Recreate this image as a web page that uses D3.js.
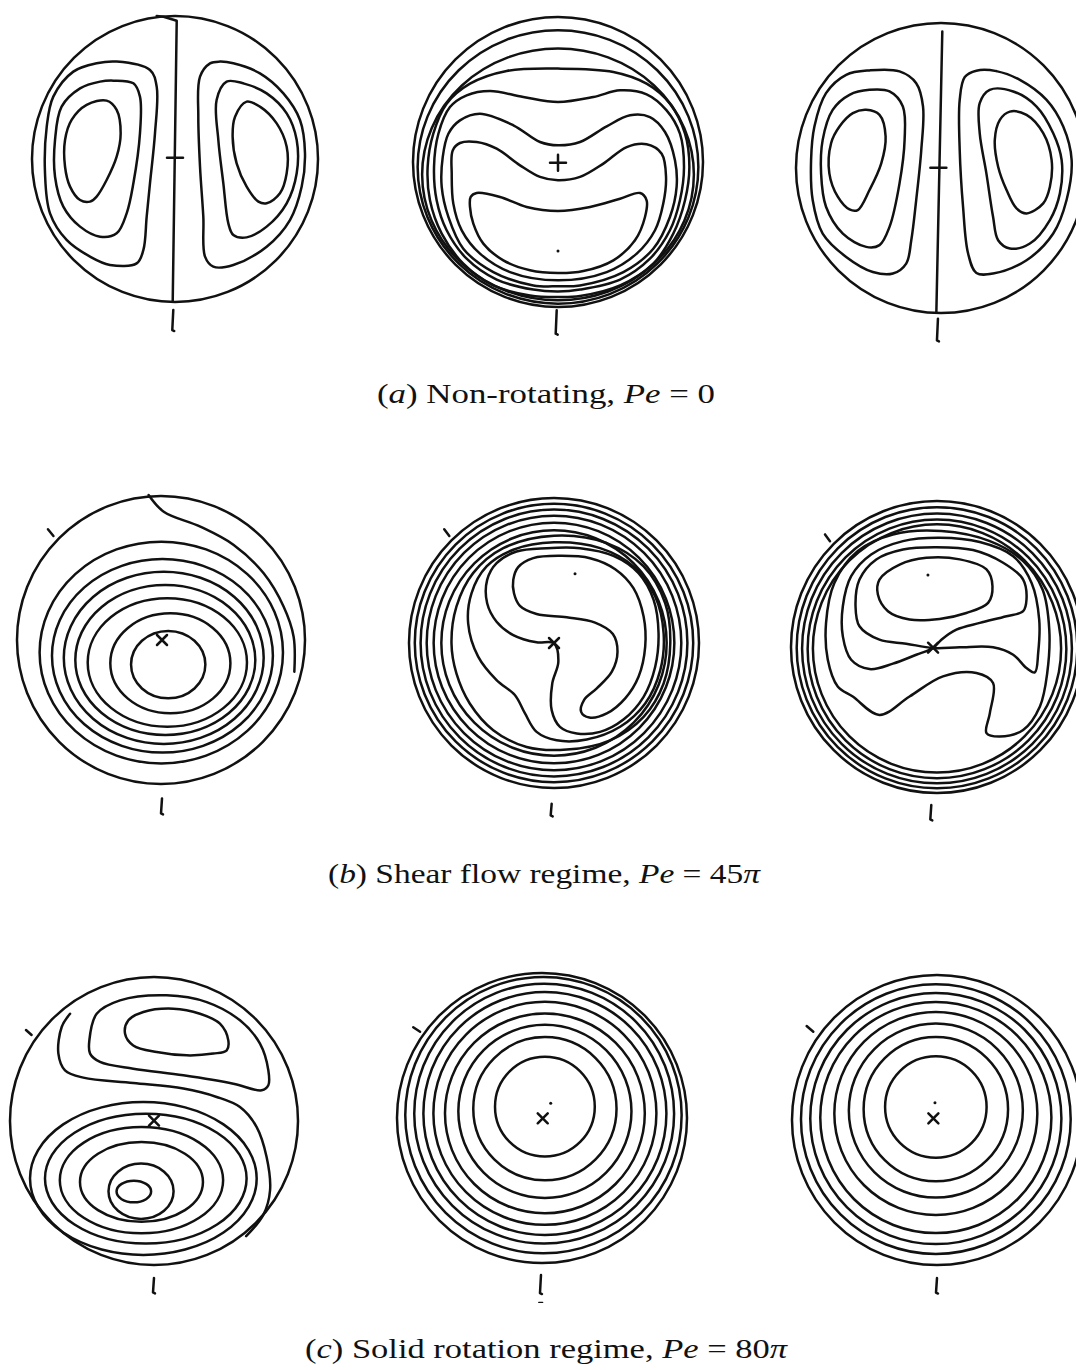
<!DOCTYPE html>
<html>
<head>
<meta charset="utf-8">
<script src="https://cdn.jsdelivr.net/npm/d3@7"></script>
<style>
  html, body { margin: 0; padding: 0; background: #fff; }
  svg { display: block; }
</style>
</head>
<body>
<svg id="fig" width="1076" height="1370"></svg>
<script>
// Contour data in unit-disk coordinates: u to the right, v upward, |(u,v)| = 1 on the wall.
// Loops are closed smooth contours, curves are open smooth contours,
// lines are straight polylines, rings are near-circular contours [cu, cv, ru, rv].

// ---- (a) non-rotating ----
const a1Loops = [
  [[-0.408,0.681],[-0.175,0.622],[-0.128,0.506],[-0.140,0.179],[-0.175,-0.170],[-0.198,-0.403],[-0.221,-0.636],[-0.268,-0.730],[-0.455,-0.741],[-0.594,-0.683],[-0.758,-0.566],[-0.874,-0.380],[-0.909,-0.100],[-0.897,0.226],[-0.851,0.436],[-0.711,0.611],[-0.548,0.669]],
  [[-0.431,0.548],[-0.291,0.529],[-0.245,0.436],[-0.245,0.179],[-0.291,-0.170],[-0.338,-0.380],[-0.408,-0.520],[-0.524,-0.543],[-0.664,-0.473],[-0.781,-0.333],[-0.839,-0.124],[-0.839,0.133],[-0.793,0.366],[-0.664,0.494],[-0.524,0.541]],
  [[-0.478,0.408],[-0.408,0.343],[-0.380,0.179],[-0.408,0.016],[-0.478,-0.147],[-0.548,-0.263],[-0.594,-0.298],[-0.664,-0.287],[-0.734,-0.193],[-0.769,-0.054],[-0.769,0.133],[-0.723,0.273],[-0.618,0.378]],
  [[0.315,0.681],[0.408,0.669],[0.594,0.599],[0.758,0.459],[0.874,0.273],[0.909,0.040],[0.886,-0.193],[0.804,-0.427],[0.641,-0.613],[0.408,-0.741],[0.268,-0.753],[0.210,-0.683],[0.198,-0.403],[0.175,-0.054],[0.163,0.296],[0.175,0.576],[0.245,0.669]],
  [[0.361,0.541],[0.478,0.529],[0.641,0.459],[0.781,0.319],[0.851,0.133],[0.851,-0.100],[0.781,-0.310],[0.641,-0.473],[0.501,-0.548],[0.408,-0.531],[0.373,-0.450],[0.338,-0.170],[0.303,0.133],[0.291,0.413]],
  [[0.501,0.401],[0.594,0.366],[0.711,0.249],[0.781,0.086],[0.781,-0.100],[0.734,-0.240],[0.641,-0.310],[0.583,-0.298],[0.501,-0.193],[0.431,-0.030],[0.403,0.156],[0.420,0.296]]
];
const a1Lines = [[[-0.128,1.000],[-0.080,0.995],[0.012,0.967],[-0.016,-0.998]]];
const a1Marks = [{kind:"bar", u:0.0, v:0.009}];
const a1Tick = [-0.012, -1.056, -1.196];

const a2Rings = [[0.0,-0.034,0.968,0.943],[0.0,-0.086,0.937,0.868]];
const a2Loops = [
  [[0,0.644],[0.382,0.621],[0.611,0.540],[0.772,0.402],[0.876,0.195],[0.906,-0.034],[0.876,-0.264],[0.795,-0.494],[0.657,-0.701],[0.428,-0.851],[0.152,-0.924],[0,-0.931],[-0.193,-0.920],[-0.446,-0.851],[-0.653,-0.701],[-0.802,-0.494],[-0.883,-0.264],[-0.899,-0.034],[-0.860,0.195],[-0.768,0.402],[-0.607,0.540],[-0.354,0.628]],
  [[-0.469,0.490],[-0.239,0.448],[0,0.414],[0.244,0.448],[0.428,0.494],[0.611,0.467],[0.749,0.356],[0.841,0.195],[0.869,-0.034],[0.841,-0.264],[0.772,-0.471],[0.634,-0.667],[0.428,-0.811],[0.152,-0.880],[0,-0.893],[-0.170,-0.880],[-0.423,-0.811],[-0.630,-0.667],[-0.768,-0.471],[-0.837,-0.264],[-0.855,-0.034],[-0.825,0.195],[-0.745,0.379],[-0.630,0.460]],
  [[-0.676,0.287],[-0.538,0.333],[-0.308,0.253],[-0.124,0.138],[0,0.115],[0.152,0.138],[0.336,0.246],[0.497,0.322],[0.634,0.310],[0.738,0.207],[0.807,0.011],[0.818,-0.172],[0.772,-0.379],[0.657,-0.598],[0.451,-0.759],[0.152,-0.851],[0,-0.857],[-0.170,-0.851],[-0.446,-0.759],[-0.653,-0.598],[-0.756,-0.379],[-0.802,-0.172],[-0.795,0.034],[-0.756,0.195]],
  [[-0.733,-0.080],[-0.726,0.080],[-0.676,0.131],[-0.561,0.138],[-0.423,0.092],[-0.262,-0.023],[-0.124,-0.103],[0,-0.126],[0.152,-0.103],[0.313,-0.011],[0.474,0.103],[0.611,0.122],[0.715,0.057],[0.745,-0.103],[0.726,-0.287],[0.669,-0.471],[0.543,-0.632],[0.336,-0.759],[0,-0.816],[-0.331,-0.759],[-0.538,-0.632],[-0.664,-0.471],[-0.722,-0.287]],
  [[-0.602,-0.241],[-0.561,-0.214],[-0.400,-0.241],[-0.216,-0.310],[0,-0.338],[0.221,-0.310],[0.428,-0.253],[0.566,-0.214],[0.611,-0.264],[0.600,-0.379],[0.531,-0.540],[0.382,-0.678],[0.175,-0.752],[0,-0.766],[-0.193,-0.747],[-0.377,-0.678],[-0.515,-0.563],[-0.584,-0.425],[-0.607,-0.310]]
];
const a2Marks = [{kind:"plus", u:0.0, v:-0.005},{kind:"dot", u:0.0, v:-0.614}];
const a2Tick = [-0.009, -1.023, -1.184];

const a3Loops = [
  [[-0.493,0.673],[-0.286,0.666],[-0.171,0.585],[-0.124,0.424],[-0.136,0.124],[-0.171,-0.221],[-0.205,-0.498],[-0.240,-0.659],[-0.332,-0.728],[-0.470,-0.717],[-0.654,-0.613],[-0.816,-0.452],[-0.885,-0.221],[-0.896,0.055],[-0.873,0.286],[-0.793,0.516],[-0.654,0.643]],
  [[-0.493,0.539],[-0.355,0.528],[-0.263,0.424],[-0.251,0.194],[-0.286,-0.106],[-0.355,-0.406],[-0.424,-0.532],[-0.516,-0.544],[-0.677,-0.452],[-0.793,-0.267],[-0.827,-0.037],[-0.816,0.194],[-0.747,0.401],[-0.631,0.505]],
  [[-0.516,0.401],[-0.424,0.366],[-0.382,0.217],[-0.412,0.032],[-0.493,-0.152],[-0.574,-0.290],[-0.631,-0.286],[-0.712,-0.198],[-0.770,-0.037],[-0.758,0.171],[-0.700,0.286],[-0.608,0.378]],
  [[0.244,0.671],[0.382,0.668],[0.544,0.608],[0.728,0.470],[0.843,0.286],[0.901,0.055],[0.866,-0.221],[0.774,-0.452],[0.590,-0.636],[0.359,-0.728],[0.244,-0.724],[0.187,-0.590],[0.152,-0.267],[0.129,0.124],[0.129,0.470],[0.164,0.627]],
  [[0.336,0.539],[0.498,0.528],[0.659,0.424],[0.774,0.240],[0.832,0.055],[0.820,-0.175],[0.751,-0.359],[0.613,-0.521],[0.475,-0.555],[0.394,-0.498],[0.359,-0.336],[0.313,-0.037],[0.267,0.240],[0.267,0.447]],
  [[0.475,0.389],[0.590,0.366],[0.705,0.240],[0.763,0.055],[0.751,-0.129],[0.705,-0.244],[0.590,-0.313],[0.521,-0.279],[0.452,-0.152],[0.394,0.009],[0.371,0.194],[0.406,0.332]]
];
const a3Lines = [[[0.009,0.942],[-0.032,-0.993]]];
const a3Marks = [{kind:"bar", u:-0.018, v:0.002}];
const a3Tick = [-0.021, -1.039, -1.189];

// ---- (b) shear flow ----
const b1Rings = [
  [0.002,-0.087,0.845,0.770],[0.010,-0.110,0.767,0.672],[0.019,-0.124,0.694,0.598],
  [0.030,-0.139,0.625,0.521],[0.044,-0.156,0.553,0.446],[0.065,-0.162,0.417,0.347],
  [0.050,-0.171,0.258,0.234]
];
const b1Curves = [[[-0.086,1.007],[0.019,0.891],[0.273,0.787],[0.505,0.660],[0.713,0.463],[0.852,0.231],[0.921,0.023],[0.926,-0.220]]];
const b1Marks = [{kind:"cross", u:0.007, v:0.0}];
const b1Tick = [0.007, -1.100, -1.204];
const b1Slash = [-0.785, 0.769, -0.747, 0.722];

const b2Rings = [[0,0,0.960,0.960],[0,0,0.920,0.920],[0,0,0.878,0.878],[0,0,0.830,0.830],[0,0,0.777,0.777]];
const b2Loops = [
  [[0,0.740],[0.364,0.689],[0.618,0.528],[0.767,0.274],[0.802,-0.002],[0.756,-0.279],[0.618,-0.509],[0.387,-0.671],[0.088,-0.735],[-0.189,-0.717],[-0.419,-0.601],[-0.581,-0.417],[-0.673,-0.210],[-0.707,-0.002],[-0.673,0.251],[-0.558,0.482],[-0.350,0.654]],
  [[0,0.694],[0.318,0.654],[0.548,0.528],[0.698,0.320],[0.756,0.067],[0.733,-0.187],[0.629,-0.417],[0.456,-0.578],[0.226,-0.666],[0.018,-0.671],[-0.120,-0.613],[-0.200,-0.486],[-0.270,-0.359],[-0.396,-0.256],[-0.523,-0.094],[-0.592,0.136],[-0.569,0.343],[-0.465,0.528],[-0.281,0.643]],
  [[0,-0.002],[-0.120,0.005],[-0.281,0.055],[-0.396,0.147],[-0.461,0.274],[-0.461,0.435],[-0.396,0.551],[-0.258,0.631],[-0.051,0.654],[0.180,0.654],[0.410,0.601],[0.583,0.482],[0.687,0.297],[0.721,0.067],[0.698,-0.164],[0.618,-0.371],[0.479,-0.528],[0.318,-0.613],[0.157,-0.624],[0.041,-0.578],[-0.016,-0.463],[-0.012,-0.279],[0.030,-0.129]],
  [[-0.281,0.435],[-0.247,0.523],[-0.143,0.585],[0.041,0.601],[0.249,0.585],[0.422,0.509],[0.548,0.378],[0.618,0.182],[0.629,-0.025],[0.583,-0.233],[0.491,-0.382],[0.364,-0.486],[0.244,-0.514],[0.187,-0.475],[0.207,-0.394],[0.295,-0.313],[0.399,-0.198],[0.438,-0.060],[0.406,0.062],[0.283,0.141],[0.088,0.177],[-0.120,0.200],[-0.235,0.256],[-0.276,0.343]]
];
const b2Marks = [{kind:"cross", u:0.0, v:0.0},{kind:"dot", u:0.145, v:0.477}];
const b2Tick = [-0.016, -1.108, -1.189];
const b2Slash = [-0.757, 0.784, -0.722, 0.738];

const b3Rings = [[0,-0.005,0.961,0.963],[0,-0.010,0.924,0.924],[0,-0.013,0.886,0.886],[0,-0.010,0.850,0.850]];
const b3Loops = [
  [[-0.394,0.462],[-0.256,0.565],[-0.073,0.611],[0.156,0.600],[0.339,0.531],[0.380,0.416],[0.350,0.302],[0.201,0.233],[0.018,0.192],[-0.188,0.188],[-0.336,0.245],[-0.405,0.359]],
  [[-0.027,-0.007],[-0.211,0.023],[-0.394,0.050],[-0.531,0.142],[-0.558,0.279],[-0.531,0.462],[-0.416,0.600],[-0.233,0.668],[-0.005,0.684],[0.247,0.664],[0.453,0.577],[0.590,0.462],[0.613,0.325],[0.590,0.245],[0.476,0.211],[0.293,0.165],[0.133,0.119],[0.030,0.050],[-0.027,-0.007],[-0.142,-0.053],[-0.302,-0.114],[-0.462,-0.151],[-0.588,-0.087],[-0.645,0.073],[-0.645,0.279],[-0.588,0.485],[-0.451,0.634],[-0.233,0.725],[0.018,0.748],[0.293,0.719],[0.522,0.622],[0.648,0.439],[0.700,0.188],[0.693,-0.041],[0.670,-0.174],[0.613,-0.144],[0.522,-0.053],[0.384,-0.002],[0.156,-0.002]],
  [[-0.577,-0.339],[-0.394,-0.465],[-0.188,-0.339],[0.041,-0.201],[0.270,-0.178],[0.384,-0.247],[0.362,-0.453],[0.339,-0.590],[0.430,-0.613],[0.590,-0.568],[0.705,-0.407],[0.755,-0.178],[0.769,0.119],[0.723,0.394],[0.590,0.588],[0.362,0.725],[0.030,0.794],[-0.302,0.771],[-0.542,0.657],[-0.703,0.439],[-0.760,0.165],[-0.748,-0.087],[-0.680,-0.270]]
];
const b3Marks = [{kind:"cross", u:-0.027, v:-0.005},{kind:"dot", u:-0.062, v:0.494}];
const b3Tick = [-0.039, -1.082, -1.181];
const b3Slash = [-0.767, 0.771, -0.733, 0.725];

// ---- (c) solid rotation ----
const c1Loops = [
  [[-0.178,0.699],[-0.074,0.757],[0.134,0.780],[0.319,0.745],[0.458,0.676],[0.516,0.560],[0.505,0.491],[0.412,0.468],[0.227,0.456],[0.019,0.479],[-0.144,0.525],[-0.201,0.606]],
  [[-0.449,0.560],[-0.398,0.745],[-0.236,0.838],[0.088,0.873],[0.366,0.826],[0.597,0.699],[0.736,0.537],[0.794,0.352],[0.794,0.248],[0.748,0.213],[0.551,0.259],[0.204,0.317],[-0.144,0.363],[-0.375,0.410],[-0.444,0.468]]
];
const c1Rings = [
  [-0.074,-0.399,0.787,0.531],[-0.057,-0.400,0.700,0.451],[-0.087,-0.411,0.567,0.369],
  [-0.087,-0.423,0.427,0.277],[-0.090,-0.488,0.226,0.192],[-0.140,-0.490,0.120,0.075]
];
const c1Curves = [[[-0.583,0.745],[-0.641,0.653],[-0.664,0.468],[-0.618,0.352],[-0.491,0.301],[-0.144,0.264],[0.204,0.225],[0.435,0.167],[0.597,0.097],[0.713,-0.042],[0.782,-0.250],[0.806,-0.481],[0.760,-0.650],[0.640,-0.800]]];
const c1Marks = [{kind:"cross", u:0.0, v:0.002}];
const c1Tick = [0.0, -1.090, -1.190];
const c1Slash = [-0.889, 0.632, -0.850, 0.597];

const c2Rings = [
  [0.010,0.020,0.953,0.953],[0.015,0.030,0.896,0.896],[0.020,0.031,0.838,0.838],[0.020,0.032,0.769,0.769],
  [0.020,0.032,0.689,0.689],[0.020,0.046,0.597,0.597],[0.020,0.064,0.494,0.494],[0.020,0.078,0.344,0.344]
];
const c2Marks = [{kind:"cross", u:0.005, v:-0.002},{kind:"dot", u:0.060, v:0.101},{kind:"dash", u:-0.009, v:-1.272}];
const c2Tick = [-0.007, -1.083, -1.207];
const c2Slash = [-0.888, 0.626, -0.841, 0.595];

const c3Rings = [
  [-0.008,0.006,0.930,0.930],[-0.008,0.010,0.866,0.866],[-0.008,0.017,0.797,0.797],[-0.008,0.045,0.700,0.700],
  [-0.008,0.065,0.600,0.600],[-0.008,0.075,0.498,0.498],[-0.008,0.090,0.350,0.350]
];
const c3Marks = [{kind:"cross", u:-0.025, v:0.011},{kind:"dot", u:-0.014, v:0.119}];
const c3Tick = [0.0, -1.090, -1.190];
const c3Slash = [-0.899, 0.648, -0.853, 0.609];

// Captions (italic runs marked with i:true)
const captionA = [{t:"(", i:false},{t:"a", i:true},{t:") Non-rotating, ", i:false},{t:"Pe", i:true},{t:" = 0", i:false}];
const captionB = [{t:"(", i:false},{t:"b", i:true},{t:") Shear flow regime, ", i:false},{t:"Pe", i:true},{t:" = 45", i:false},{t:"\u03C0", i:true}];
const captionC = [{t:"(", i:false},{t:"c", i:true},{t:") Solid rotation regime, ", i:false},{t:"Pe", i:true},{t:" = 80", i:false},{t:"\u03C0", i:true}];

// ---------------- layout ----------------
const panels = [
  {cx:175, cy:159, r:143, loops:a1Loops, lines:a1Lines, marks:a1Marks, tick:a1Tick},
  {cx:558, cy:162, r:145, rings:a2Rings, loops:a2Loops, marks:a2Marks, tick:a2Tick},
  {cx:941, cy:168, r:145, loops:a3Loops, lines:a3Lines, marks:a3Marks, tick:a3Tick},
  {cx:161, cy:640, r:144, rings:b1Rings, curves:b1Curves, marks:b1Marks, tick:b1Tick, slash:b1Slash},
  {cx:554, cy:643, r:145, rings:b2Rings, loops:b2Loops, marks:b2Marks, tick:b2Tick, slash:b2Slash},
  {cx:937, cy:647, r:146, rings:b3Rings, loops:b3Loops, marks:b3Marks, tick:b3Tick, slash:b3Slash},
  {cx:154, cy:1121, r:144, rings:c1Rings, loops:c1Loops, curves:c1Curves, marks:c1Marks, tick:c1Tick, slash:c1Slash},
  {cx:542, cy:1118, r:145, rings:c2Rings, marks:c2Marks, tick:c2Tick, slash:c2Slash},
  {cx:937, cy:1120, r:145, rings:c3Rings, marks:c3Marks, tick:c3Tick, slash:c3Slash}
];
const captions = [
  {parts:captionA, x:546, y:403, w:338},
  {parts:captionB, x:544, y:883, w:432},
  {parts:captionC, x:546, y:1358, w:482}
];

const INK = "#111";
const SW = 2.5;
const svg = d3.select("#fig");

panels.forEach(p => {
  const x = d3.scaleLinear().domain([-1, 1]).range([p.cx - p.r, p.cx + p.r]);
  const y = d3.scaleLinear().domain([-1, 1]).range([p.cy + p.r, p.cy - p.r]);
  const g = svg.append("g").attr("fill", "none").attr("stroke", INK)
    .attr("stroke-width", SW).attr("stroke-linejoin", "round").attr("stroke-linecap", "round");

  // container wall
  g.append("circle").attr("cx", x(0)).attr("cy", y(0)).attr("r", x(1) - x(0));

  (p.rings || []).forEach(d => {
    g.append("ellipse").attr("cx", x(d[0])).attr("cy", y(d[1]))
      .attr("rx", x(d[2]) - x(0)).attr("ry", y(0) - y(d[3]));
  });

  const closed = d3.line().x(d => x(d[0])).y(d => y(d[1])).curve(d3.curveCatmullRomClosed.alpha(0.5));
  const open = d3.line().x(d => x(d[0])).y(d => y(d[1])).curve(d3.curveCatmullRom.alpha(0.5));
  const poly = d3.line().x(d => x(d[0])).y(d => y(d[1]));

  (p.loops || []).forEach(d => g.append("path").attr("d", closed(d)));
  (p.curves || []).forEach(d => g.append("path").attr("d", open(d)));
  (p.lines || []).forEach(d => g.append("path").attr("d", poly(d)));

  (p.marks || []).forEach(m => {
    const mx = x(m.u), my = y(m.v);
    if (m.kind === "plus") {
      g.append("path").attr("d", `M${mx-8},${my}H${mx+8}M${mx},${my-8}V${my+8}`);
    } else if (m.kind === "bar") {
      g.append("path").attr("d", `M${mx-8},${my}H${mx+8}`);
    } else if (m.kind === "cross") {
      g.append("path").attr("d", `M${mx-5},${my-5}L${mx+5},${my+5}M${mx+5},${my-5}L${mx-5},${my+5}`);
    } else if (m.kind === "dash") {
      g.append("path").attr("d", `M${mx-2},${my}H${mx+2}`).attr("stroke-width", 1.2);
    } else if (m.kind === "dot") {
      g.append("circle").attr("cx", mx).attr("cy", my).attr("r", 1.5).attr("fill", INK).attr("stroke", "none");
    }
  });

  if (p.tick) {
    const tx = x(p.tick[0]), t0 = y(p.tick[1]), t1 = y(p.tick[2]);
    g.append("path").attr("d", `M${tx},${t0}L${tx - 1},${t1}l2,1`);
  }
  if (p.slash) {
    g.append("path").attr("d", poly([[p.slash[0], p.slash[1]], [p.slash[2], p.slash[3]]]));
  }
});

captions.forEach(c => {
  const t = svg.append("text").attr("x", c.x).attr("y", c.y).attr("text-anchor", "middle")
    .attr("font-family", "'Liberation Serif', 'DejaVu Serif', serif").attr("font-size", 27)
    .attr("fill", INK).attr("textLength", c.w).attr("lengthAdjust", "spacingAndGlyphs");
  c.parts.forEach(s => t.append("tspan").attr("font-style", s.i ? "italic" : "normal").text(s.t));
});
</script>
</body>
</html>
